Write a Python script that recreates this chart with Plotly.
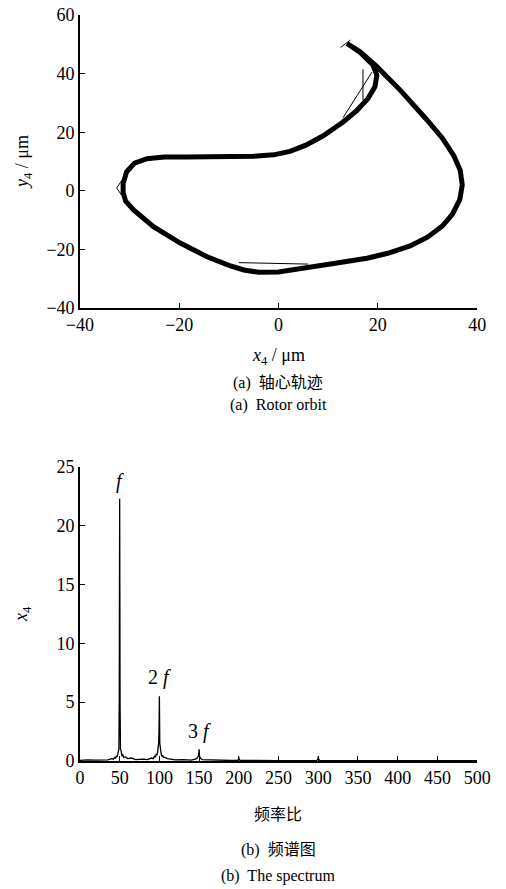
import plotly.graph_objects as go

# ---- Orbit data ----
orbit_x = [13.8, 16.5, 19.8, 24.5, 29.9, 33.0, 35.3, 36.6, 37.0, 36.5, 35.0, 33.0, 30.0, 26.5, 22.0, 17.8,
           11.1, 6.0, 2.0, 0.0, -4.0, -7.0, -10.0, -14.5, -19.8, -25.2, -29.2, -30.8, -31.3, -31.3, -30.6,
           -29.0, -26.5, -23.0, -18.5, -12.4, -5.0, -1.0, 2.3, 5.5, 9.0, 13.0, 15.8, 18.0, 19.4, 19.8,
           19.0, 16.5, 13.8]
orbit_y = [50.3, 47.4, 42.4, 34.4, 24.2, 18.0, 12.0, 7.0, 2.0, -3.0, -8.0, -12.0, -15.8, -18.8, -21.3, -23.0,
           -24.8, -26.2, -27.3, -27.7, -27.8, -27.0, -25.4, -22.4, -17.8, -12.2, -6.5, -3.5, -0.5, 2.5, 6.5,
           9.5, 11.0, 11.6, 11.6, 11.5, 11.8, 12.3, 13.5, 15.6, 18.8, 23.5, 27.5, 31.5, 35.5, 39.5,
           43.0, 47.2, 50.3]
# thin stray segments visible in reference (None separates segments)
stray_x = [17.0, 17.0, None, 13.0, 18.8, None, -8.0, 6.0, None, -32.6, -31.0, None, -32.6, -31.0, None, 12.5, 14.5]
stray_y = [41.5, 31.0, None, 25.0, 40.5, None, -24.5, -25.0, None, 1.0, 5.0, None, 1.0, -3.0, None, 49.0, 51.5]

# ---- Spectrum data ----
freq = [0, 10, 20, 30, 35, 40, 42, 44, 45, 46, 47, 48, 49, 49.5, 50, 50.5, 51, 52, 53, 54, 55, 57, 60, 65,
        70, 80, 85, 90, 92, 94, 95, 96, 97, 98, 99, 99.5, 100, 100.5, 101, 102, 103, 104, 105, 107, 110, 115,
        120, 130, 140, 145, 147, 148, 149, 149.5, 150, 150.5, 151, 152, 154, 160, 170, 180, 190, 198, 199.5,
        200, 200.5, 202, 220, 250, 280, 298, 299.5, 300, 300.5, 302, 350, 400, 450, 500]
amp = [0.05, 0.1, 0.08, 0.12, 0.1, 0.2, 0.15, 0.3, 0.25, 0.45, 0.35, 0.7, 1.0, 5.3, 22.3, 5.0, 1.0, 0.8,
       0.4, 0.55, 0.3, 0.35, 0.2, 0.25, 0.12, 0.15, 0.12, 0.25, 0.2, 0.4, 0.3, 0.6, 0.5, 0.9, 1.5, 2.5, 5.5,
       1.5, 0.9, 0.7, 0.4, 0.5, 0.3, 0.3, 0.2, 0.15, 0.1, 0.12, 0.08, 0.15, 0.2, 0.3, 0.4, 0.6, 1.0, 0.4,
       0.25, 0.2, 0.12, 0.1, 0.06, 0.08, 0.04, 0.05, 0.1, 0.35, 0.1, 0.05, 0.03, 0.03, 0.03, 0.05, 0.15, 0.4,
       0.15, 0.05, 0.02, 0.02, 0.02, 0.02]

peak_labels = ["<i>f</i>", "2 <i>f</i>", "3 <i>f</i>"]
peak_x = [50, 100, 150]
peak_y = [23.8, 7.1, 2.5]

xticks_top = [-40, -20, 0, 20, 40]
yticks_top = [-40, -20, 0, 20, 40, 60]
xticks_bot = [0, 50, 100, 150, 200, 250, 300, 350, 400, 450, 500]
yticks_bot = [0, 5, 10, 15, 20, 25]

SERIF = "Liberation Serif"
CJK = "Noto Sans CJK SC"

fig = go.Figure()
fig.add_trace(go.Scatter(x=orbit_x, y=orbit_y, mode="lines", line=dict(color="black", width=5),
                         xaxis="x", yaxis="y", showlegend=False))
fig.add_trace(go.Scatter(x=stray_x, y=stray_y, mode="lines", line=dict(color="black", width=1),
                         xaxis="x", yaxis="y", showlegend=False))
fig.add_trace(go.Scatter(x=freq, y=amp, mode="lines", line=dict(color="black", width=1.3),
                         xaxis="x2", yaxis="y2", showlegend=False))

axis_common = dict(showline=True, linecolor="black", linewidth=1.5, ticks="inside", ticklen=5,
                   tickcolor="black", tickwidth=1.2, showgrid=False, zeroline=False, automargin=False,
                   tickfont=dict(family=SERIF, size=18, color="black"), mirror=False)

fig.update_layout(
    width=506, height=889, margin=dict(l=0, r=0, t=0, b=0),
    plot_bgcolor="white", paper_bgcolor="white",
    xaxis=dict(domain=[0.158, 0.943], range=[-40, 40], tickvals=xticks_top, anchor="y", **axis_common),
    yaxis=dict(domain=[0.6535, 0.983], range=[-40, 60], tickvals=yticks_top, anchor="x", **axis_common),
    xaxis2=dict(domain=[0.158, 0.943], range=[0, 500], tickvals=xticks_bot, anchor="y2", **axis_common),
    yaxis2=dict(domain=[0.144, 0.4747], range=[0, 25], tickvals=yticks_bot, anchor="x2", **axis_common),
)

for lab, px, py in zip(peak_labels, peak_x, peak_y):
    fig.add_annotation(x=px, y=py, xref="x2", yref="y2", text=lab, showarrow=False,
                       font=dict(family=SERIF, size=20, color="black"), xanchor="center", yanchor="middle")

def ptext(text, x, y, size=18, family=SERIF, angle=0):
    fig.add_annotation(x=x / 506, y=1 - y / 889, xref="paper", yref="paper", text=text, showarrow=False,
                       font=dict(family=family, size=size, color="black"), textangle=angle,
                       xanchor="center", yanchor="middle")

ptext("<i>x</i><sub>4</sub> / μm", 278, 356, 18)
ptext("<i>y</i><sub>4</sub> / μm", 24, 162, 18, angle=-90)
ptext("(a)  <span style='font-family:Noto Sans CJK SC'>轴心轨迹</span>", 278, 381, 16)
ptext("(a)  Rotor orbit", 278, 405, 16)
ptext("<i>x</i><sub>4</sub>", 22, 614, 18, angle=-90)
ptext("频率比", 278, 813, 16, family=CJK)
ptext("(b)  <span style='font-family:Noto Sans CJK SC'>频谱图</span>", 278, 848, 16)
ptext("(b)  The spectrum", 278, 876, 16)

fig.write_html("out.html")
